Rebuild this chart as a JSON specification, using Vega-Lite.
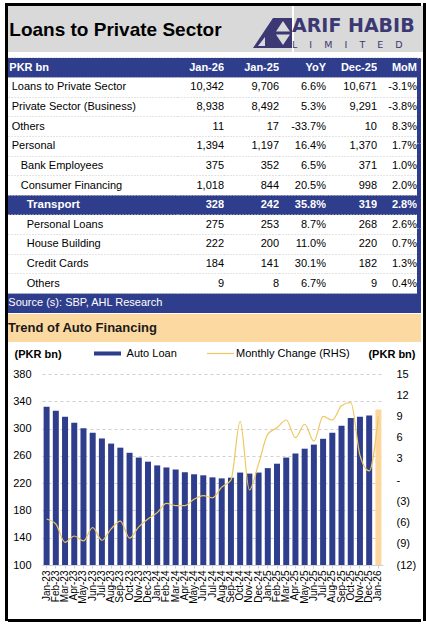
{
  "$schema": "https://vega.github.io/schema/vega-lite/v6.json",
  "background": "white",
  "padding": {"left": 5, "top": 3, "right": 2, "bottom": 6},
  "config": {
    "view": {"stroke": null},
    "font": "Liberation Sans",
    "concat": {"spacing": 0},
    "title": {"font": "Liberation Sans", "color": "#000000"},
    "axis": {"labelFont": "Liberation Sans", "titleFont": "Liberation Sans", "labelColor": "#000000", "titleColor": "#000000"},
    "legend": {"labelFont": "Liberation Sans", "labelColor": "#000000"}
  },
  "datasets": {
    "table": [
      {"row": 0, "level": -1, "item": "PKR bn", "jan26": "Jan-26", "jan25": "Jan-25", "yoy": "YoY", "dec25": "Dec-25", "mom": "MoM"},
      {"row": 1, "level": 0, "item": "Loans to Private Sector", "jan26": "10,342", "jan25": "9,706", "yoy": "6.6%", "dec25": "10,671", "mom": "-3.1%"},
      {"row": 2, "level": 0, "item": "Private Sector (Business)", "jan26": "8,938", "jan25": "8,492", "yoy": "5.3%", "dec25": "9,291", "mom": "-3.8%"},
      {"row": 3, "level": 0, "item": "Others", "jan26": "11", "jan25": "17", "yoy": "-33.7%", "dec25": "10", "mom": "8.3%"},
      {"row": 4, "level": 0, "item": "Personal", "jan26": "1,394", "jan25": "1,197", "yoy": "16.4%", "dec25": "1,370", "mom": "1.7%"},
      {"row": 5, "level": 1, "item": "Bank Employees", "jan26": "375", "jan25": "352", "yoy": "6.5%", "dec25": "371", "mom": "1.0%"},
      {"row": 6, "level": 1, "item": "Consumer Financing", "jan26": "1,018", "jan25": "844", "yoy": "20.5%", "dec25": "998", "mom": "2.0%"},
      {"row": 7, "level": 2, "item": "Transport", "jan26": "328", "jan25": "242", "yoy": "35.8%", "dec25": "319", "mom": "2.8%"},
      {"row": 8, "level": 2, "item": "Personal Loans", "jan26": "275", "jan25": "253", "yoy": "8.7%", "dec25": "268", "mom": "2.6%"},
      {"row": 9, "level": 2, "item": "House Building", "jan26": "222", "jan25": "200", "yoy": "11.0%", "dec25": "220", "mom": "0.7%"},
      {"row": 10, "level": 2, "item": "Credit Cards", "jan26": "184", "jan25": "141", "yoy": "30.1%", "dec25": "182", "mom": "1.3%"},
      {"row": 11, "level": 2, "item": "Others", "jan26": "9", "jan25": "8", "yoy": "6.7%", "dec25": "9", "mom": "0.4%"},
      {"row": 12, "level": -1, "item": "Source (s): SBP, AHL Research", "jan26": "", "jan25": "", "yoy": "", "dec25": "", "mom": ""}
    ],
    "auto": [
      {"month": "Jan-23", "loan": 332, "change": -5.5},
      {"month": "Feb-23", "loan": 326, "change": -6.2},
      {"month": "Mar-23", "loan": 317.5, "change": -8.8},
      {"month": "Apr-23", "loan": 308.5, "change": -7.9},
      {"month": "May-23", "loan": 300.5, "change": -8.6},
      {"month": "Jun-23", "loan": 294, "change": -6.7},
      {"month": "Jul-23", "loan": 285.5, "change": -8.5},
      {"month": "Aug-23", "loan": 278, "change": -6.9},
      {"month": "Sep-23", "loan": 272, "change": -5.8},
      {"month": "Oct-23", "loan": 264.5, "change": -8.2},
      {"month": "Nov-23", "loan": 257.5, "change": -6.6},
      {"month": "Dec-23", "loan": 251.5, "change": -5.5},
      {"month": "Jan-24", "loan": 246, "change": -4.6},
      {"month": "Feb-24", "loan": 243, "change": -3.3},
      {"month": "Mar-24", "loan": 240, "change": -3.6},
      {"month": "Apr-24", "loan": 236, "change": -3.6},
      {"month": "May-24", "loan": 233, "change": -2.7},
      {"month": "Jun-24", "loan": 231.5, "change": -2.2},
      {"month": "Jul-24", "loan": 228.5, "change": -2.5},
      {"month": "Aug-24", "loan": 227, "change": -1.0},
      {"month": "Sep-24", "loan": 228, "change": 0.0},
      {"month": "Oct-24", "loan": 235.5, "change": 8.3},
      {"month": "Nov-24", "loan": 234, "change": -1.4},
      {"month": "Dec-24", "loan": 235.5, "change": 2.3},
      {"month": "Jan-25", "loan": 242, "change": 6.5},
      {"month": "Feb-25", "loan": 248.5, "change": 7.4},
      {"month": "Mar-25", "loan": 257.5, "change": 8.5},
      {"month": "Apr-25", "loan": 263.5, "change": 6.0},
      {"month": "May-25", "loan": 270.5, "change": 7.9},
      {"month": "Jun-25", "loan": 276.5, "change": 5.5},
      {"month": "Jul-25", "loan": 285, "change": 9.0},
      {"month": "Aug-25", "loan": 294, "change": 8.5},
      {"month": "Sep-25", "loan": 304, "change": 10.5},
      {"month": "Oct-25", "loan": 315.5, "change": 11.0},
      {"month": "Nov-25", "loan": 317.5, "change": 3.5},
      {"month": "Dec-25", "loan": 319, "change": 1.3},
      {"month": "Jan-26", "loan": 328, "change": 9.0}
    ]
  },
  "spacing": 0,
  "resolve": {"scale": {"color": "independent", "stroke": "independent"}, "legend": {"color": "independent", "stroke": "independent"}},
  "hconcat": [
    {"width": 3, "height": 618, "data": {"values": [{}]}, "mark": {"type": "rect", "color": "black"}, "encoding": {"x": {"value": 0}, "x2": {"value": "width"}, "y": {"value": 0}, "y2": {"value": "height"}}},
    {
      "spacing": 0,
      "resolve": {"scale": {"color": "independent", "stroke": "independent"}, "legend": {"color": "independent", "stroke": "independent"}},
      "vconcat": [
        {"width": 413, "height": 3, "data": {"values": [{}]}, "mark": {"type": "rect", "color": "black"}, "encoding": {"x": {"value": 0}, "x2": {"value": "width"}, "y": {"value": 0}, "y2": {"value": "height"}}},
        {
          "spacing": 0,
          "hconcat": [
            {"width": 245, "height": 46,
             "title": {"text": "Loans to Private Sector", "anchor": "start", "fontSize": 19, "fontWeight": "bold", "color": "#000000", "offset": -34, "dx": 1.3},
             "data": {"values": [{}]}, "mark": {"type": "rect", "color": "#D9D9D9"}, "encoding": {"x": {"value": 0}, "x2": {"value": "width"}, "y": {"value": 0}, "y2": {"value": "height"}}},
            {"width": 39, "height": 46,
             "data": {"values": [{}]},
             "layer": [
               {"mark": {"type": "rect", "color": "#D9D9D9"}, "encoding": {"x": {"value": 0}, "x2": {"value": "width"}, "y": {"value": 0}, "y2": {"value": "height"}}},
               {"mark": {"type": "point", "shape": "M-1,0.974L0.026,-0.564L1,-0.564L1,0.974Z M0.179,0.128L0.897,0.128L0.538,-0.41Z M0.179,0.282L0.538,0.82L0.897,0.282Z M-0.744,0.872L-0.385,0.872L-0.385,0.41Z", "size": 1521, "filled": true, "color": "#3B3874", "opacity": 1, "strokeWidth": 0}}
             ]},
            {"width": 129, "height": 46,
             "title": {"text": "ARIF HABIB", "subtitle": "L\u00a0\u00a0\u00a0\u00a0I\u00a0\u00a0\u00a0\u00a0M\u00a0\u00a0\u00a0\u00a0I\u00a0\u00a0\u00a0\u00a0T\u00a0\u00a0\u00a0\u00a0E\u00a0\u00a0\u00a0\u00a0D", "anchor": "start", "font": "DejaVu Sans", "fontSize": 19, "fontWeight": "bold", "color": "#3B3874", "subtitleFont": "DejaVu Sans", "subtitleFontSize": 9.5, "subtitleColor": "#3B3874", "subtitlePadding": 4, "offset": -43, "dx": -2},
             "data": {"values": [{}]}, "mark": {"type": "rect", "color": "#D9D9D9"}, "encoding": {"x": {"value": 0}, "x2": {"value": "width"}, "y": {"value": 0}, "y2": {"value": "height"}}}
          ]
        },
        {"width": 413, "height": 5, "data": {"values": [{}]}, "mark": {"type": "rect", "color": "white"}, "encoding": {"x": {"value": 0}, "x2": {"value": "width"}, "y": {"value": 0}, "y2": {"value": "height"}}},
        {
          "spacing": 0,
          "hconcat": [
            {"width": 170, "height": 255, "data": {"name": "table"},
             "encoding": {"y": {"field": "row", "type": "ordinal", "scale": {"paddingInner": 0, "paddingOuter": 0}, "axis": {"title": null, "labels": false, "ticks": false, "domain": false, "grid": true, "gridDash": [1, 2], "gridColor": "#c8c8c8", "bandPosition": 0}}},
             "layer": [
               {"transform": [{"filter": "datum.row == 0 || datum.row == 7 || datum.row == 12"}], "mark": {"type": "rect", "color": "#2F3E8C"}, "encoding": {"x": {"value": 0}, "x2": {"value": "width"}}},
               {"transform": [{"filter": "datum.row == 0"}], "mark": {"type": "text", "align": "left", "dx": 1.3, "fontWeight": "bold", "color": "white", "fontSize": 11}, "encoding": {"x": {"value": 0}, "text": {"field": "item"}}},
               {"transform": [{"filter": "datum.row == 7"}], "mark": {"type": "text", "align": "left", "dx": 18.7, "fontWeight": "bold", "color": "white", "fontSize": 11.5}, "encoding": {"x": {"value": 0}, "text": {"field": "item"}}},
               {"transform": [{"filter": "datum.row == 12"}], "mark": {"type": "text", "align": "left", "dx": 0.3, "color": "white", "fontSize": 11}, "encoding": {"x": {"value": 0}, "text": {"field": "item"}}},
               {"transform": [{"filter": "datum.level == 0"}], "mark": {"type": "text", "align": "left", "dx": 3.7, "color": "black", "fontSize": 11}, "encoding": {"x": {"value": 0}, "text": {"field": "item"}}},
               {"transform": [{"filter": "datum.level == 1"}], "mark": {"type": "text", "align": "left", "dx": 12.7, "color": "black", "fontSize": 11}, "encoding": {"x": {"value": 0}, "text": {"field": "item"}}},
               {"transform": [{"filter": "datum.level == 2 && datum.row != 7"}], "mark": {"type": "text", "align": "left", "dx": 18.7, "color": "black", "fontSize": 11}, "encoding": {"x": {"value": 0}, "text": {"field": "item"}}}
             ]},
            {"width": 46, "height": 255, "data": {"name": "table"},
             "encoding": {"y": {"field": "row", "type": "ordinal", "scale": {"paddingInner": 0, "paddingOuter": 0}, "axis": {"title": null, "labels": false, "ticks": false, "domain": false, "grid": true, "gridDash": [1, 2], "gridColor": "#c8c8c8", "bandPosition": 0}}},
             "layer": [
               {"transform": [{"filter": "datum.row == 0 || datum.row == 7 || datum.row == 12"}], "mark": {"type": "rect", "color": "#2F3E8C"}, "encoding": {"x": {"value": 0}, "x2": {"value": "width"}}},
               {"transform": [{"filter": "datum.row == 0 || datum.row == 7"}], "mark": {"type": "text", "align": "right", "fontWeight": "bold", "color": "white", "fontSize": 11}, "encoding": {"x": {"value": "width"}, "text": {"field": "jan26"}}},
               {"transform": [{"filter": "datum.row > 0 && datum.row < 12 && datum.row != 7"}], "mark": {"type": "text", "align": "right", "color": "black", "fontSize": 11}, "encoding": {"x": {"value": "width"}, "text": {"field": "jan26"}}}
             ]},
            {"width": 55, "height": 255, "data": {"name": "table"},
             "encoding": {"y": {"field": "row", "type": "ordinal", "scale": {"paddingInner": 0, "paddingOuter": 0}, "axis": {"title": null, "labels": false, "ticks": false, "domain": false, "grid": true, "gridDash": [1, 2], "gridColor": "#c8c8c8", "bandPosition": 0}}},
             "layer": [
               {"transform": [{"filter": "datum.row == 0 || datum.row == 7 || datum.row == 12"}], "mark": {"type": "rect", "color": "#2F3E8C"}, "encoding": {"x": {"value": 0}, "x2": {"value": "width"}}},
               {"transform": [{"filter": "datum.row == 0 || datum.row == 7"}], "mark": {"type": "text", "align": "right", "fontWeight": "bold", "color": "white", "fontSize": 11}, "encoding": {"x": {"value": "width"}, "text": {"field": "jan25"}}},
               {"transform": [{"filter": "datum.row > 0 && datum.row < 12 && datum.row != 7"}], "mark": {"type": "text", "align": "right", "color": "black", "fontSize": 11}, "encoding": {"x": {"value": "width"}, "text": {"field": "jan25"}}}
             ]},
            {"width": 47, "height": 255, "data": {"name": "table"},
             "encoding": {"y": {"field": "row", "type": "ordinal", "scale": {"paddingInner": 0, "paddingOuter": 0}, "axis": {"title": null, "labels": false, "ticks": false, "domain": false, "grid": true, "gridDash": [1, 2], "gridColor": "#c8c8c8", "bandPosition": 0}}},
             "layer": [
               {"transform": [{"filter": "datum.row == 0 || datum.row == 7 || datum.row == 12"}], "mark": {"type": "rect", "color": "#2F3E8C"}, "encoding": {"x": {"value": 0}, "x2": {"value": "width"}}},
               {"transform": [{"filter": "datum.row == 0 || datum.row == 7"}], "mark": {"type": "text", "align": "right", "fontWeight": "bold", "color": "white", "fontSize": 11}, "encoding": {"x": {"value": "width"}, "text": {"field": "yoy"}}},
               {"transform": [{"filter": "datum.row > 0 && datum.row < 12 && datum.row != 7"}], "mark": {"type": "text", "align": "right", "color": "black", "fontSize": 11}, "encoding": {"x": {"value": "width"}, "text": {"field": "yoy"}}}
             ]},
            {"width": 51, "height": 255, "data": {"name": "table"},
             "encoding": {"y": {"field": "row", "type": "ordinal", "scale": {"paddingInner": 0, "paddingOuter": 0}, "axis": {"title": null, "labels": false, "ticks": false, "domain": false, "grid": true, "gridDash": [1, 2], "gridColor": "#c8c8c8", "bandPosition": 0}}},
             "layer": [
               {"transform": [{"filter": "datum.row == 0 || datum.row == 7 || datum.row == 12"}], "mark": {"type": "rect", "color": "#2F3E8C"}, "encoding": {"x": {"value": 0}, "x2": {"value": "width"}}},
               {"transform": [{"filter": "datum.row == 0 || datum.row == 7"}], "mark": {"type": "text", "align": "right", "fontWeight": "bold", "color": "white", "fontSize": 11}, "encoding": {"x": {"value": "width"}, "text": {"field": "dec25"}}},
               {"transform": [{"filter": "datum.row > 0 && datum.row < 12 && datum.row != 7"}], "mark": {"type": "text", "align": "right", "color": "black", "fontSize": 11}, "encoding": {"x": {"value": "width"}, "text": {"field": "dec25"}}}
             ]},
            {"width": 40, "height": 255, "data": {"name": "table"},
             "encoding": {"y": {"field": "row", "type": "ordinal", "scale": {"paddingInner": 0, "paddingOuter": 0}, "axis": {"title": null, "labels": false, "ticks": false, "domain": false, "grid": true, "gridDash": [1, 2], "gridColor": "#c8c8c8", "bandPosition": 0}}},
             "layer": [
               {"transform": [{"filter": "datum.row == 0 || datum.row == 7 || datum.row == 12"}], "mark": {"type": "rect", "color": "#2F3E8C"}, "encoding": {"x": {"value": 0}, "x2": {"value": "width"}}},
               {"transform": [{"filter": "datum.row == 0 || datum.row == 7"}], "mark": {"type": "text", "align": "right", "fontWeight": "bold", "color": "white", "fontSize": 11}, "encoding": {"x": {"value": "width"}, "text": {"field": "mom"}}},
               {"transform": [{"filter": "datum.row > 0 && datum.row < 12 && datum.row != 7"}], "mark": {"type": "text", "align": "right", "color": "black", "fontSize": 11}, "encoding": {"x": {"value": "width"}, "text": {"field": "mom"}}}
             ]},
            {"width": 4, "height": 255, "data": {"name": "table"},
             "encoding": {"y": {"field": "row", "type": "ordinal", "scale": {"paddingInner": 0, "paddingOuter": 0}, "axis": {"title": null, "labels": false, "ticks": false, "domain": false, "grid": true, "gridDash": [1, 2], "gridColor": "#c8c8c8", "bandPosition": 0}}},
             "layer": [
               {"transform": [{"filter": "datum.row == 0 || datum.row == 7 || datum.row == 12"}], "mark": {"type": "rect", "color": "#2F3E8C"}, "encoding": {"x": {"value": 0}, "x2": {"value": "width"}}}
             ]}
          ]
        },
        {"width": 413, "height": 28,
         "title": {"text": "Trend of Auto Financing", "anchor": "start", "fontSize": 13, "fontWeight": "bold", "color": "#1a1a1a", "offset": -21},
         "data": {"values": [{}]}, "mark": {"type": "rect", "color": "#FCD9A0"}, "encoding": {"x": {"value": 0}, "x2": {"value": "width"}, "y": {"value": 0}, "y2": {"value": "height"}}},
        {"width": 413, "height": 6, "data": {"values": [{}]}, "mark": {"type": "rect", "color": "white"}, "encoding": {"x": {"value": 0}, "x2": {"value": "width"}, "y": {"value": 0}, "y2": {"value": "height"}}},
        {
          "spacing": 0,
          "resolve": {"scale": {"color": "independent", "stroke": "independent"}, "legend": {"color": "independent", "stroke": "independent"}},
          "hconcat": [
            {"width": 4, "height": 1, "data": {"values": [{}]}, "mark": {"type": "rect", "color": "white"}, "encoding": {"x": {"value": 0}, "x2": {"value": "width"}, "y": {"value": 0}, "y2": {"value": "height"}}},
            {
              "width": 341, "height": 191,
              "view": {"fill": "white"},
              "data": {"name": "auto"},
              "encoding": {
                "x": {"field": "month", "type": "ordinal", "sort": null,
                      "scale": {"paddingInner": 0.35, "paddingOuter": 0.175},
                      "axis": {"title": null, "labelAngle": -90, "labelAlign": "right", "labelBaseline": "middle", "labelFontSize": 10, "labelLimit": 60, "labelOverlap": false, "domainColor": "#d0d0d0", "tickColor": "#d0d0d0", "tickSize": 3, "labelPadding": 2}}
              },
              "layer": [
                {"mark": {"type": "bar"},
                 "encoding": {
                   "y": {"field": "loan", "type": "quantitative",
                         "scale": {"domain": [100, 380], "nice": false, "zero": false},
                         "axis": {"title": "(PKR bn)", "values": [100, 140, 180, 220, 260, 300, 340, 380], "grid": true, "gridDash": [3, 3], "gridColor": "#cfcfcf", "domain": false, "ticks": false, "labelPadding": 11, "labelFontSize": 11, "titleAngle": 0, "titleAlign": "left", "titleBaseline": "middle", "titleX": -28, "titleY": -20, "titleFontSize": 11, "titleFontWeight": "bold"}},
                   "y2": {"datum": 100},
                   "color": {"condition": {"test": "datum.month === 'Jan-26'", "value": "#FCD69C"},
                             "datum": "Auto Loan",
                             "scale": {"domain": ["Auto Loan"], "range": ["#2F3E8C"]},
                             "legend": {"orient": "none", "legendX": 60, "legendY": -26, "title": null, "symbolType": "M-3,-0.45H3V0.45H-3Z", "symbolSize": 81, "symbolStrokeWidth": 0, "labelOffset": 13.6, "labelFontSize": 11, "padding": 0}}
                 }},
                {"mark": {"type": "line", "interpolate": "monotone", "strokeWidth": 1.2},
                 "encoding": {
                   "y": {"field": "change", "type": "quantitative",
                         "scale": {"domain": [-12, 15], "nice": false, "zero": false},
                         "axis": {"orient": "right", "title": "(PKR bn)", "values": [-12, -9, -6, -3, 0, 3, 6, 9, 12, 15], "labelExpr": "datum.value < 0 ? '(' + abs(datum.value) + ')' : (datum.value == 0 ? '-' : datum.value)", "grid": false, "domain": false, "ticks": false, "labelPadding": 13, "labelFontSize": 11, "titleAngle": 0, "titleAlign": "right", "titleBaseline": "middle", "titleX": 32, "titleY": -20, "titleFontSize": 11, "titleFontWeight": "bold"}},
                   "stroke": {"datum": "Monthly Change (RHS)",
                              "scale": {"domain": ["Monthly Change (RHS)"], "range": ["#EFC75E"]},
                              "legend": {"orient": "none", "legendX": 173, "legendY": -26, "title": null, "symbolType": "M-3,0H3", "symbolSize": 81, "symbolStrokeWidth": 1.2, "symbolFillColor": "transparent", "labelOffset": 10, "labelFontSize": 11, "padding": 0}}
                 }}
              ],
              "resolve": {"scale": {"y": "independent"}}
            }
          ]
        },
        {"width": 413, "height": 15, "data": {"values": [{}]}, "mark": {"type": "rect", "color": "white"}, "encoding": {"x": {"value": 0}, "x2": {"value": "width"}, "y": {"value": 0}, "y2": {"value": "height"}}},
        {"width": 413, "height": 3, "data": {"values": [{}]}, "mark": {"type": "rect", "color": "black"}, "encoding": {"x": {"value": 0}, "x2": {"value": "width"}, "y": {"value": 0}, "y2": {"value": "height"}}}
      ]
    },
    {"width": 3, "height": 618, "data": {"values": [{}]}, "mark": {"type": "rect", "color": "black"}, "encoding": {"x": {"value": 0}, "x2": {"value": "width"}, "y": {"value": 0}, "y2": {"value": "height"}}}
  ]
}
